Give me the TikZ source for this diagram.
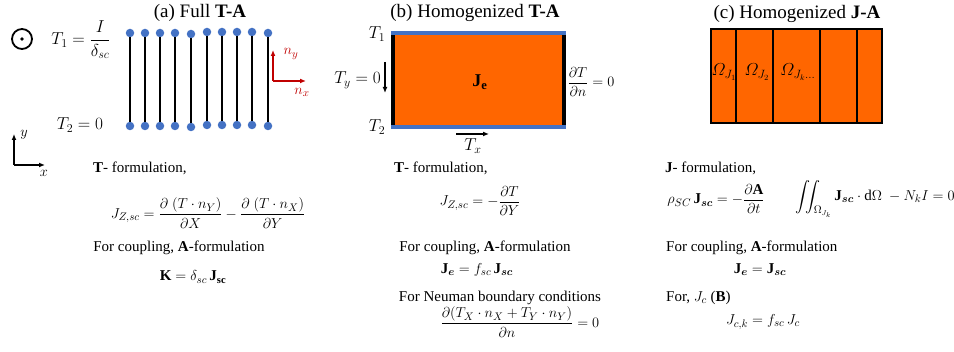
\documentclass[tikz,border=0pt]{standalone}
\usepackage{amsmath,amssymb}
\usepackage{fontspec}
\setmainfont{Liberation Serif}
\usepackage{xcolor}
\usepackage{tikz}
\usetikzlibrary{arrows.meta}
\definecolor{figorange}{RGB}{255,102,0}
\definecolor{figblue}{RGB}{68,114,196}
\definecolor{figred}{RGB}{192,0,0}
\tikzset{
  ttl/.style  ={font=\fontsize{19}{22}\selectfont, inner sep=1pt},
  txt/.style  ={font=\fontsize{15}{18}\selectfont, inner sep=1pt},
  mlab/.style ={font=\fontsize{17}{20}\selectfont, inner sep=1pt},
  pin/.style  ={circle, fill=figblue, inner sep=0pt, minimum size=8.5pt},
  wire/.style ={draw=black, line width=1.6pt},
  nvec/.style ={draw=figred, line width=1.2pt, -{Latex[length=6pt,width=5pt]}},
  axv/.style  ={draw=black, line width=1.2pt, -{Latex[length=6pt,width=5pt]}},
  slab/.style ={draw=black, line width=1.5pt},
}

\begin{document}
\begin{tikzpicture}[x=1pt,y=-1pt]
  \useasboundingbox (0,0) rectangle (954,352);
  % (a) full T-A
  \node[ttl] (ttla) at (200,13) {(a) Full \textbf{T-A}};
  \node[circle,draw=black,line width=1.8pt,minimum size=20pt,inner sep=0pt] (cur) at (22,39) {};
  \fill (cur.center) circle (1.8);
  \node[mlab] (tone) at (81,40) {$T_1=\dfrac{I}{\delta_{sc}}$};
  \node[mlab] (ttwo) at (80,125) {$T_2=0$};
  \node[pin] (t1) at (130,33) {};
  \node[pin] (b1) at (130,126) {};
  \draw[wire] (t1) -- (b1);
  \node[pin] (t2) at (145,33) {};
  \node[pin] (b2) at (145,126) {};
  \draw[wire] (t2) -- (b2);
  \node[pin] (t3) at (160,33) {};
  \node[pin] (b3) at (160,126) {};
  \draw[wire] (t3) -- (b3);
  \node[pin] (t4) at (175,33) {};
  \node[pin] (b4) at (175,126) {};
  \draw[wire] (t4) -- (b4);
  \node[pin] (t5) at (191,34) {};
  \node[pin] (b5) at (191,127) {};
  \draw[wire] (t5) -- (b5);
  \node[pin] (t6) at (207,32) {};
  \node[pin] (b6) at (207,125) {};
  \draw[wire] (t6) -- (b6);
  \node[pin] (t7) at (222,32) {};
  \node[pin] (b7) at (222,125) {};
  \draw[wire] (t7) -- (b7);
  \node[pin] (t8) at (237,32) {};
  \node[pin] (b8) at (237,125) {};
  \draw[wire] (t8) -- (b8);
  \node[pin] (t9) at (252,32) {};
  \node[pin] (b9) at (252,125) {};
  \draw[wire] (t9) -- (b9);
  \node[pin] (t10) at (268,33) {};
  \node[pin] (b10) at (268,126) {};
  \draw[wire] (t10) -- (b10);
  \coordinate (nbase) at (273,81);
  \coordinate (nupy) at (273,50);
  \coordinate (nupx) at (306,81);
  \draw[nvec] (nbase) -- (nupy);
  \draw[nvec] (nbase) -- (nupx);
  \node[txt,text=figred] (nylab) at (291,54) {$n_y$};
  \node[txt,text=figred] (nxlab) at (302,92) {$n_x$};
  \coordinate (axo) at (14,165);
  \coordinate (axy) at (14,134);
  \coordinate (axx) at (45,165);
  \draw[axv] (axo) -- (axy);
  \draw[axv] (axo) -- (axx);
  \node[txt] (ylab) at (24,135) {$y$};
  \node[txt] (xlab) at (44,173) {$x$};
  \node[txt,anchor=west] (tforma) at (92,168) {\textbf{T}- formulation,};
  \node[txt] (jza) at (208,213) {$J_{Z,sc}=\dfrac{\partial\;(T\cdot n_Y)}{\partial X}-\dfrac{\partial\;(T\cdot n_X)}{\partial Y}$};
  \node[txt] (coupa) at (179,248) {For coupling, \textbf{A}-formulation};
  \node[txt] (kdef) at (193,277) {$\mathbf{K}=\delta_{sc}\,\mathbf{J_{sc}}$};
  % (b) homogenized T-A
  \node[ttl] (ttlb) at (475,13) {(b) Homogenized \textbf{T-A}};
  \fill[figorange] (391,33) rectangle (566,127);
  \draw[draw=black,line width=4pt] (393,35) -- (393,125);
  \draw[draw=black,line width=4pt] (564,35) -- (564,125);
  \draw[draw=figblue,line width=4pt] (391,33) -- (566,33);
  \draw[draw=figblue,line width=4pt] (391,127) -- (566,127);
  \node[font=\fontsize{18}{20}\selectfont] (je) at (480,82) {$\mathbf{J_e}$};
  \node[mlab] (tb1) at (377,34) {$T_1$};
  \node[mlab] (tb2) at (377,127) {$T_2$};
  \node[mlab,anchor=east] (tyz) at (382,80) {$T_y=0$};
  \coordinate (tys) at (385,62);
  \coordinate (tye) at (385,93);
  \draw[axv] (tys) -- (tye);
  \node[txt] (dtdn) at (591,82) {$\dfrac{\partial T}{\partial n}=0$};
  \coordinate (txs) at (456,134);
  \coordinate (txe) at (489,134);
  \draw[axv] (txs) -- (txe);
  \node[mlab] (txlab) at (473,146) {$T_x$};
  \node[txt,anchor=west] (tformb) at (393,168) {\textbf{T}- formulation,};
  \node[txt] (jzb) at (480,201) {$J_{Z,sc}=-\dfrac{\partial T}{\partial Y}$};
  \node[txt] (coupb) at (485,248) {For coupling, \textbf{A}-formulation};
  \node[txt] (jeb) at (477,270) {$\mathbf{J}_{\boldsymbol{e}}=f_{sc}\,\mathbf{J}_{\boldsymbol{sc}}$};
  \node[txt] (neum) at (500,298) {For Neuman boundary conditions};
  \node[txt] (bcn) at (520,322) {$\dfrac{\partial(T_X\cdot n_X+T_Y\cdot n_Y)}{\partial n}=0$};
  % (c) homogenized J-A
  \node[ttl] (ttlc) at (797,14) {(c) Homogenized \textbf{J-A}};
  \filldraw[fill=figorange,slab] (711,29) rectangle (882,123);
  \draw[slab] (736,29) -- (736,123);
  \draw[slab] (773,29) -- (773,123);
  \draw[slab] (820,29) -- (820,123);
  \draw[slab] (857,29) -- (857,123);
  \node[mlab] (om1) at (724,72) {$\varOmega_{J_1}$};
  \node[mlab] (om2) at (757,72) {$\varOmega_{J_2}$};
  \node[mlab] (omk) at (798,72) {$\varOmega_{J_k\ldots}$};
  \node[txt,anchor=west] (jform) at (664,168) {\textbf{J}- formulation,};
  \node[txt] (rhoeq) at (716,199) {$\rho_{SC}\,\mathbf{J}_{\boldsymbol{sc}}=-\dfrac{\partial\mathbf{A}}{\partial t}$};
  \node[txt] (inteq) at (875,199) {$\displaystyle\iint_{\Omega_{J_k}}\mathbf{J}_{\boldsymbol{sc}}\cdot\mathrm{d}\Omega\;-N_kI=0$};
  \node[txt,anchor=west] (coupc) at (665,248) {For coupling, \textbf{A}-formulation};
  \node[txt] (jec) at (760,270) {$\mathbf{J}_{\boldsymbol{e}}=\mathbf{J}_{\boldsymbol{sc}}$};
  \node[txt,anchor=west] (jcb) at (665,298) {For, $J_c$ (\textbf{B})};
  \node[txt] (jck) at (763,322) {$J_{c,k}=f_{sc}\,J_c$};
\end{tikzpicture}
\end{document}
